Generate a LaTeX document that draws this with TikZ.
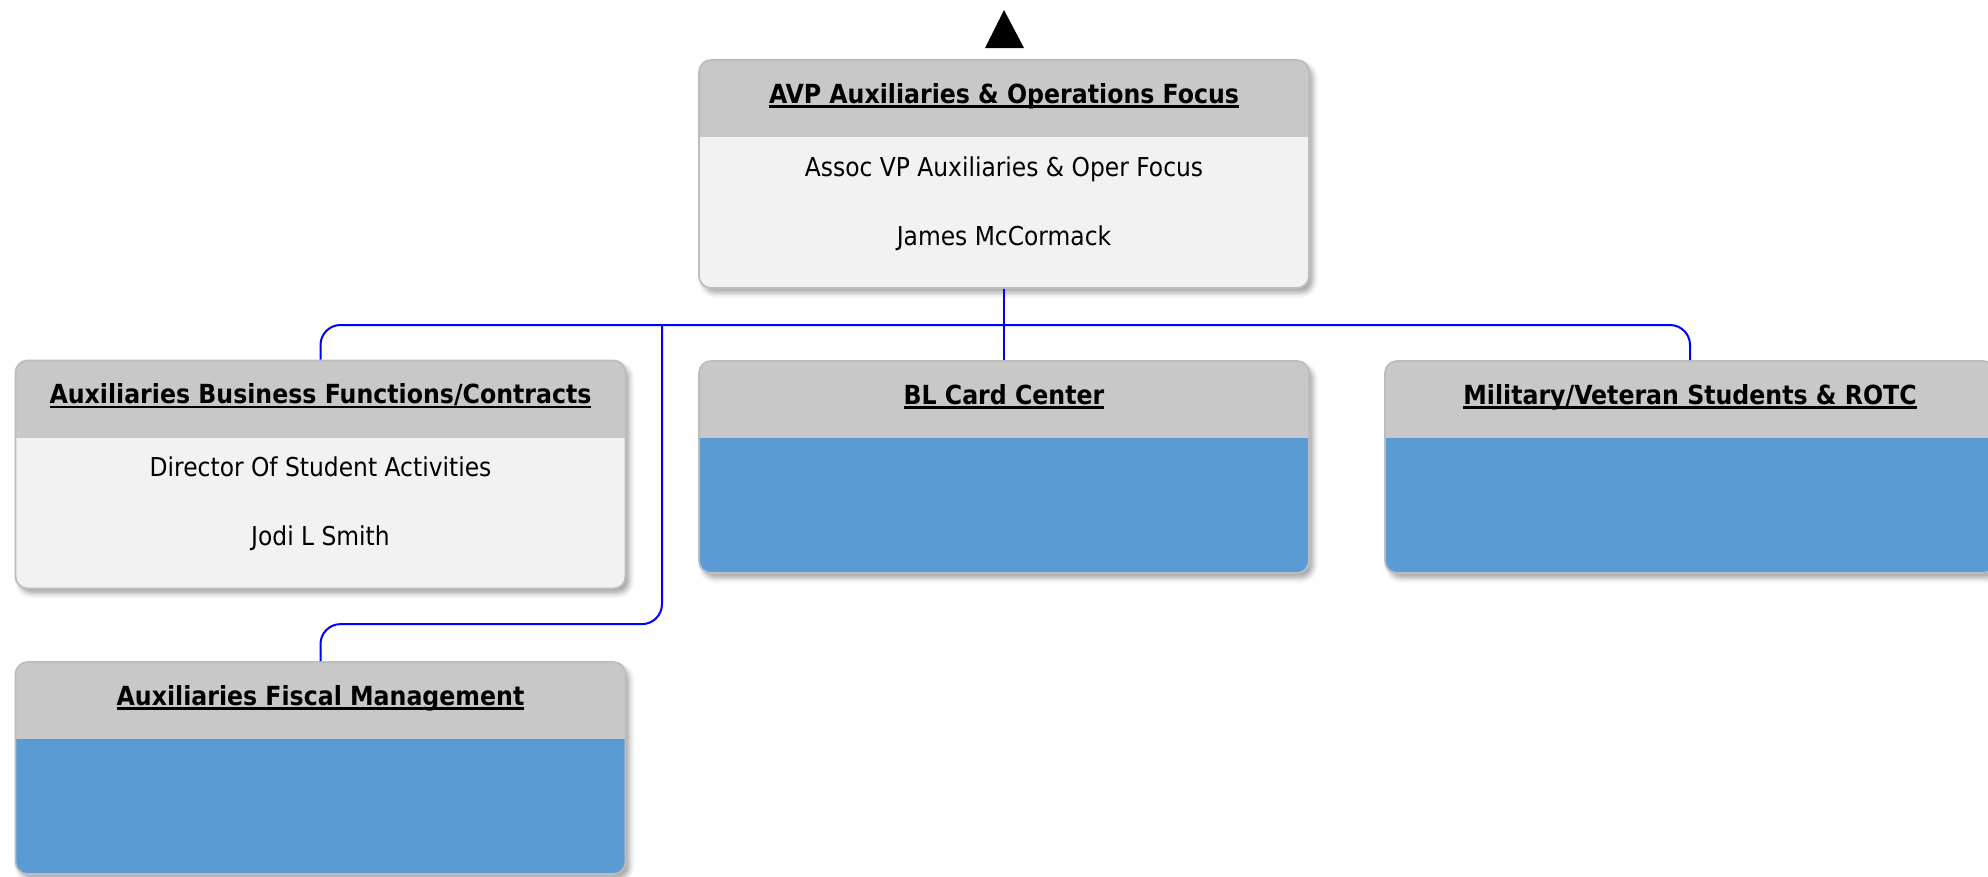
\documentclass[tikz,border=0pt]{standalone}
\usepackage{fontspec}
\setmainfont{DejaVu Sans Condensed}
\usetikzlibrary{positioning,shadows.blur}
\definecolor{headgray}{HTML}{C8C8C8}
\definecolor{bodygray}{HTML}{F2F2F2}
\definecolor{cardblue}{HTML}{5B9BD5}
\definecolor{cardline}{HTML}{BDBDBD}
\definecolor{linkblue}{HTML}{0000FF}
\newcommand{\ul}[1]{\setbox0\hbox{#1}\rlap{\rule[-4.5pt]{\wd0}{2.2pt}}\box0}
\tikzset{
  card/.style  = {rectangle, draw=cardline, line width=1.8pt, rounded corners=12pt,
                  minimum width=610, minimum height=228, inner sep=0, fill=bodygray,
                  blur shadow={shadow xshift=4pt, shadow yshift=-5pt,
                               shadow blur radius=5pt, shadow opacity=35},
                  path picture={\fill[headgray, sharp corners] (path picture bounding box.north west)
                     rectangle ([yshift=-77pt]path picture bounding box.north east);}},
  blank/.style = {card, minimum height=212, fill=cardblue},
  ttl/.style   = {font=\fontsize{26.3}{31}\selectfont\bfseries, inner sep=0, anchor=base},
  txt/.style   = {font=\fontsize{26}{31}\selectfont, inner sep=0, anchor=base},
  link/.style  = {draw=linkblue, line width=2pt, rounded corners=20pt}
}
\begin{document}
\begin{tikzpicture}[x=1pt,y=-1pt]
  \useasboundingbox (0,0) rectangle (1988,876);
  % up marker
  \fill (985,48) -- (1004,10) -- (1024,48) -- cycle;
  % cards
  \node[card]  (avp)  at (1004,174) {};
  \node[card]  (bfc)  at (320.5,474.5) {};
  \node[blank] (bcc)  at (1004,467) {};
  \node[blank] (mil)  at (1690,467) {};
  \node[blank] (fisc) at (320.5,768) {};
  \node[ttl] (avp-t) at ([yshift=-44pt]avp.north) {\ul{AVP Auxiliaries \& Operations Focus}};
  \node[txt] (avp-1) at ([yshift=-117pt]avp.north) {Assoc VP Auxiliaries \& Oper Focus};
  \node[txt] (avp-2) at ([yshift=-186pt]avp.north) {James McCormack};
  \node[ttl] (bfc-t) at ([yshift=-44pt]bfc.north) {\ul{Auxiliaries Business Functions/Contracts}};
  \node[txt] (bfc-1) at ([yshift=-117pt]bfc.north) {Director Of Student Activities};
  \node[txt] (bfc-2) at ([yshift=-186pt]bfc.north) {Jodi L Smith};
  \node[ttl] (bcc-t) at ([yshift=-44pt]bcc.north) {\ul{BL Card Center}};
  \node[ttl] (mil-t) at ([yshift=-44pt]mil.north) {\ul{Military/Veteran Students \& ROTC}};
  \node[ttl] (fisc-t) at ([yshift=-44pt]fisc.north) {\ul{Auxiliaries Fiscal Management}};
  % connectors
  \coordinate (bus)  at (1004,325);
  \coordinate (fork) at (662,325);
  \draw[link] (bfc.north) |- (bus) -| (mil.north);
  \draw[link] (avp.south) -- (bcc.north);
  \draw[link] (fork) |- ([yshift=37pt]fisc.north) -- (fisc.north);
\end{tikzpicture}
\end{document}
